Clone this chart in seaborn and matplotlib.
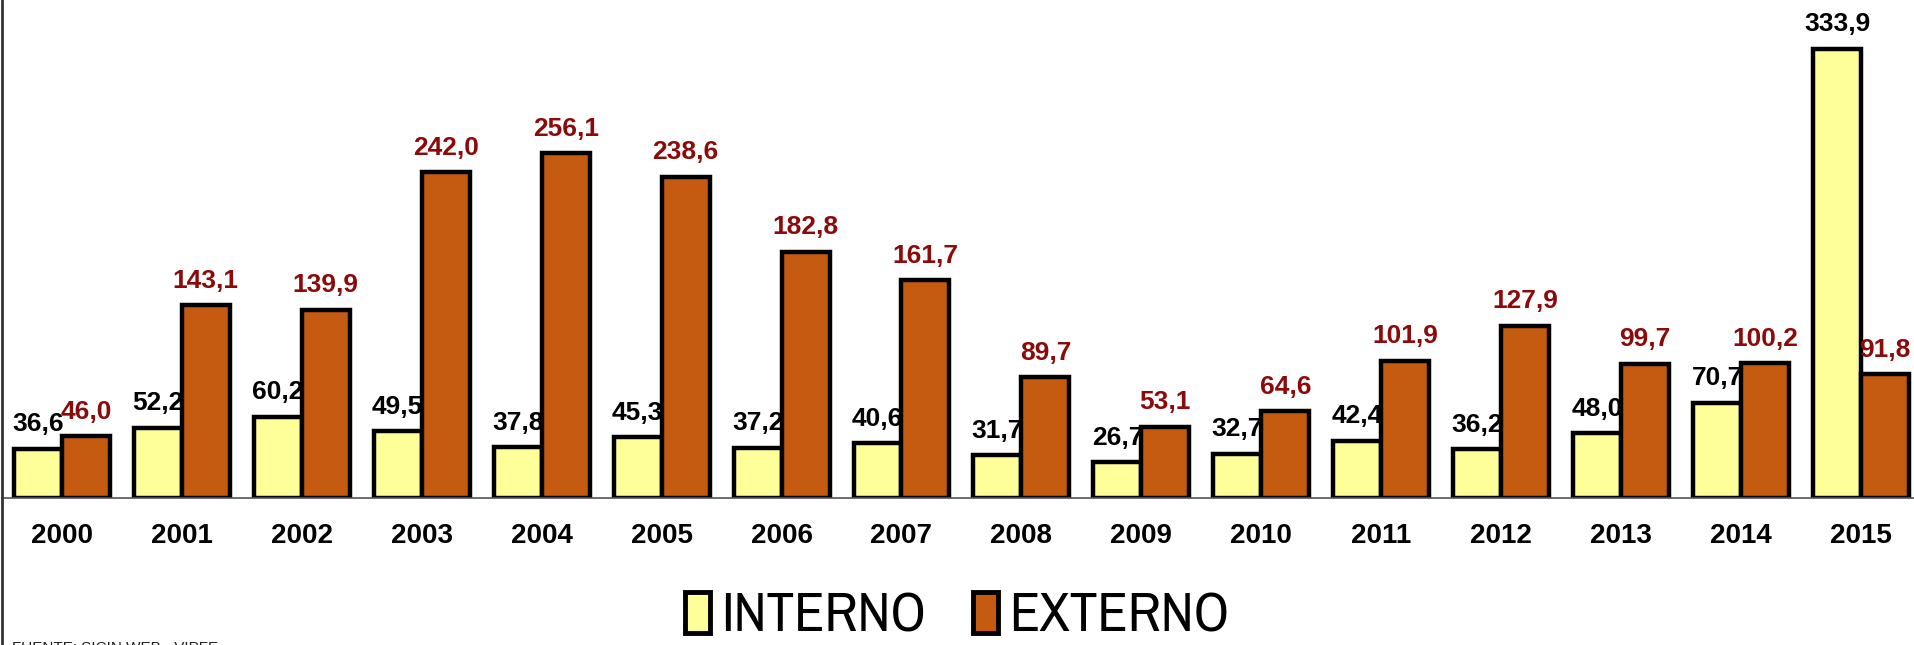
import numpy as np
import pandas as pd
import matplotlib
matplotlib.use('Agg')
import matplotlib.pyplot as plt
from matplotlib.patches import Patch
from matplotlib.lines import Line2D
import seaborn as sns

# ---- data ----
years = ['2000', '2001', '2002', '2003', '2004', '2005', '2006', '2007',
         '2008', '2009', '2010', '2011', '2012', '2013', '2014', '2015']
interno = [36.6, 52.2, 60.2, 49.5, 37.8, 45.3, 37.2, 40.6,
           31.7, 26.7, 32.7, 42.4, 36.2, 48.0, 70.7, 333.9]
externo = [46.0, 143.1, 139.9, 242.0, 256.1, 238.6, 182.8, 161.7,
           89.7, 53.1, 64.6, 101.9, 127.9, 99.7, 100.2, 91.8]
series_names = ['INTERNO', 'EXTERNO']

df = pd.DataFrame({
    'year': years * 2,
    'serie': [series_names[0]] * len(years) + [series_names[1]] * len(years),
    'valor': interno + externo,
})

col_int = '#FFFF99'
col_ext = '#C55A11'
lab_int = '#000000'
lab_ext = '#8B0A0A'
narrow = ['Archivo Narrow', 'Liberation Sans', 'DejaVu Sans']

sns.set_theme(style='white')
plt.rcParams['font.family'] = ['Liberation Sans', 'DejaVu Sans']
plt.rcParams['text.color'] = 'black'

fig = plt.figure(figsize=(19.15, 6.45), dpi=100)
ax = fig.add_axes([0.001, 1 - 498 / 645, 0.999, 498 / 645])

sns.barplot(data=df, x='year', y='valor', hue='serie', hue_order=series_names,
            palette=[col_int, col_ext], width=0.8, gap=0, saturation=1,
            edgecolor='black', linewidth=3.2, legend=False, ax=ax)

for cont, c in zip(ax.containers, [lab_int, lab_ext]):
    ax.bar_label(cont, labels=[f'{v:.1f}'.replace('.', ',') for v in cont.datavalues],
                 padding=9, color=c, fontsize=19, fontweight='bold')

ax.set_ylim(0, 370)
ax.set_xlim(-0.5, 15.45)
ax.set_xlabel('')
ax.set_ylabel('')
ax.set_yticks([])
for s in ['top', 'right', 'left']:
    ax.spines[s].set_visible(False)
ax.spines['bottom'].set_color('#555555')
ax.spines['bottom'].set_linewidth(1.2)
ax.tick_params(axis='x', length=0, pad=18, colors='black')
for t in ax.get_xticklabels():
    t.set_fontsize(20)
    t.set_fontweight('bold')

# left border line of the frame
fig.add_artist(Line2D([0.0012, 0.0012], [0, 1], transform=fig.transFigure,
                      color='#333333', linewidth=2))

handles = [Patch(facecolor=col_int, edgecolor='black', linewidth=3.5),
           Patch(facecolor=col_ext, edgecolor='black', linewidth=3.5)]
fig.legend(handles, series_names, loc='center', bbox_to_anchor=(0.5, 1 - 617 / 645),
           ncol=2, frameon=False, handlelength=0.45, handleheight=0.75,
           handletextpad=0.2, columnspacing=0.85, labelcolor='black',
           borderpad=0, prop={'family': narrow, 'size': 40})

fig.text(12 / 1915, 1 - 641 / 645, 'FUENTE: SICIN WEB - VIPFE', fontsize=11,
         va='top', ha='left', color='#222222')

fig.savefig('out.png', dpi=100)
